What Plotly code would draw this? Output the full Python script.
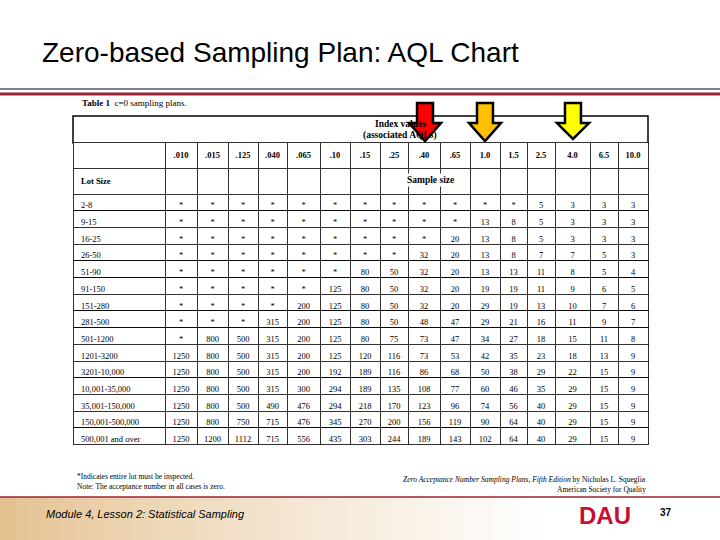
import plotly.graph_objects as go

W, H = 720, 540
def X(p): return p / W
def Y(p): return 1 - p / H

aqls = [".010", ".015", ".125", ".040", ".065", ".10", ".15", ".25", ".40", ".65", "1.0", "1.5", "2.5", "4.0", "6.5", "10.0"]
lot_sizes = ["2-8", "9-15", "16-25", "26-50", "51-90", "91-150", "151-280", "281-500", "501-1200",
             "1201-3200", "3201-10,000", "10,001-35,000", "35,001-150,000", "150,001-500,000", "500,001 and over"]
S = "*"
sample_rows = [
    [S, S, S, S, S, S, S, S, S, S, S, S, 5, 3, 3, 3],
    [S, S, S, S, S, S, S, S, S, S, 13, 8, 5, 3, 3, 3],
    [S, S, S, S, S, S, S, S, S, 20, 13, 8, 5, 3, 3, 3],
    [S, S, S, S, S, S, S, S, 32, 20, 13, 8, 7, 7, 5, 3],
    [S, S, S, S, S, S, 80, 50, 32, 20, 13, 13, 11, 8, 5, 4],
    [S, S, S, S, S, 125, 80, 50, 32, 20, 19, 19, 11, 9, 6, 5],
    [S, S, S, S, 200, 125, 80, 50, 32, 20, 29, 19, 13, 10, 7, 6],
    [S, S, S, 315, 200, 125, 80, 50, 48, 47, 29, 21, 16, 11, 9, 7],
    [S, 800, 500, 315, 200, 125, 80, 75, 73, 47, 34, 27, 18, 15, 11, 8],
    [1250, 800, 500, 315, 200, 125, 120, 116, 73, 53, 42, 35, 23, 18, 13, 9],
    [1250, 800, 500, 315, 200, 192, 189, 116, 86, 68, 50, 38, 29, 22, 15, 9],
    [1250, 800, 500, 315, 300, 294, 189, 135, 108, 77, 60, 46, 35, 29, 15, 9],
    [1250, 800, 500, 490, 476, 294, 218, 170, 123, 96, 74, 56, 40, 29, 15, 9],
    [1250, 800, 750, 715, 476, 345, 270, 200, 156, 119, 90, 64, 40, 29, 15, 9],
    [1250, 1200, 1112, 715, 556, 435, 303, 244, 189, 143, 102, 64, 40, 29, 15, 9],
]
col_widths = [92, 32, 31, 30, 29, 33, 30, 30, 28, 32, 30, 30, 27, 28, 35, 28, 30]

serif = "Liberation Serif"
columns = [[" ", "<b>Lot Size</b>"] + lot_sizes]
for j, a in enumerate(aqls):
    columns.append(["<b>" + a + "</b>", " "] + [str(r[j]) for r in sample_rows])

tbl = go.Table(
    domain=dict(x=[X(73), X(648)], y=[Y(470), Y(126)]),
    columnwidth=col_widths,
    header=dict(values=None, height=0, line=dict(width=0), fill_color="rgba(0,0,0,0)"),
    cells=dict(values=columns, height=16.7, align=["left"] + ["center"] * 16,
               fill_color="white", line=dict(color="black", width=0.8),
               font=dict(family=serif, size=8.5, color="black")),
)
fig = go.Figure(tbl)

shapes = []
shapes.append(dict(type="line", xref="paper", yref="paper", x0=0, x1=1, y0=Y(89), y1=Y(89), line=dict(color="black", width=1)))
shapes.append(dict(type="line", xref="paper", yref="paper", x0=0, x1=1, y0=Y(94), y1=Y(94), line=dict(color="#9B2335", width=3)))
shapes.append(dict(type="rect", xref="paper", yref="paper", x0=X(73), x1=X(648), y0=Y(143), y1=Y(116), line=dict(color="black", width=1.5), fillcolor="white", layer="below"))
n = 48
for i in range(n):
    t = i / (n - 1)
    f = min(1, t ** 0.8 * 1.25)
    c = tuple(int(a + (255 - a) * f) for a in (228, 193, 143))
    shapes.append(dict(type="rect", xref="paper", yref="paper", x0=i / n, x1=(i + 1) / n + 0.002,
                       y0=0, y1=Y(497), line=dict(width=0), fillcolor="rgb(%d,%d,%d)" % c, layer="below"))
shapes.append(dict(type="line", xref="paper", yref="paper", x0=0, x1=1, y0=Y(497), y1=Y(497), line=dict(color="#9B2335", width=1.5)))

def arrow(cx, top, tip, color):
    pts = [(cx - 8, top), (cx + 8, top), (cx + 8, top + 20), (cx + 16, top + 20), (cx, tip),
           (cx - 16, top + 20), (cx - 8, top + 20)]
    path = "M " + " L ".join("%.4f,%.4f" % (X(x), Y(y)) for x, y in pts) + " Z"
    return dict(type="path", xref="paper", yref="paper", path=path, fillcolor=color,
                line=dict(color="black", width=2.5), layer="above")

shapes += [arrow(425, 103, 141, "#FF0000"), arrow(485, 103, 141, "#FFC000"), arrow(573, 103, 139, "#FFFF00")]

ann = []
def A(x, y, text, size, xanchor="left", family=serif, color="black", **kw):
    ann.append(dict(x=X(x), y=Y(y), xref="paper", yref="paper", text=text, showarrow=False,
                    xanchor=xanchor, yanchor="middle", font=dict(family=family, size=size, color=color), **kw))

A(40, 52, "Zero-based Sampling Plan: AQL Chart", 28, family="Liberation Sans")
A(80, 103, "<b>Table 1</b>  c=0 sampling plans.", 9)
A(400, 124, "<b>Index values</b>", 9.5, xanchor="center")
A(400, 135, "<b>(associated AQLs)</b>", 9.5, xanchor="center")
A(430, 180, "<b>Sample size</b>", 9.5, xanchor="center", bgcolor="white")
A(75, 476, "*Indicates entire lot must be inspected.", 7.5)
A(75, 486, "Note: The acceptance number in all cases is zero.", 7.5)
A(648, 479, "<i>Zero Acceptance Number Sampling Plans, Fifth Edition</i> by Nicholas L. Squeglia", 7.5, xanchor="right")
A(648, 489, "American Society for Quality", 7.5, xanchor="right")
A(44, 514, "<i>Module 4, Lesson 2: Statistical Sampling</i>", 11, family="Liberation Sans")
A(605, 515, "<b>DAU</b>", 24, xanchor="center", family="Liberation Sans", color="#C8102E")
A(666, 512, "<b>37</b>", 10, xanchor="center", family="Liberation Sans")

fig.update_layout(width=W, height=H, margin=dict(l=0, r=0, t=0, b=0),
                  paper_bgcolor="white", plot_bgcolor="white",
                  shapes=shapes, annotations=ann, showlegend=False)
fig.write_html("out.html", config={"displayModeBar": False},
               post_script="document.body.style.margin='0';document.body.style.padding='0';")
